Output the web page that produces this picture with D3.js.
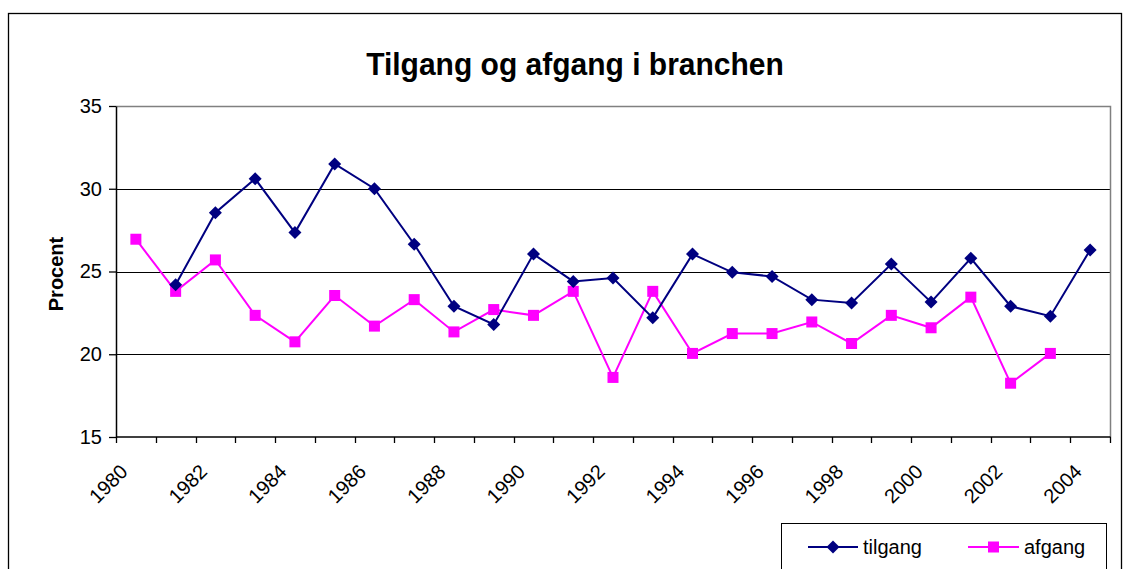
<!DOCTYPE html>
<html>
<head>
<meta charset="utf-8">
<script src="https://cdn.jsdelivr.net/npm/d3@7"></script>
<style>
  html, body { margin: 0; padding: 0; background: #fff; }
  svg { display: block; font-family: "Liberation Sans", Arial, sans-serif; }
</style>
</head>
<body>
<svg id="chart" width="1127" height="569"></svg>
<script>
const years = ["1980","1981","1982","1983","1984","1985","1986","1987","1988","1989","1990","1991","1992",
  "1993","1994","1995","1996","1997","1998","1999","2000","2001","2002","2003","2004"];
const tilgang = [null,24.2,28.55,30.6,27.35,31.5,30.0,26.65,22.9,21.8,26.05,24.4,24.6,
  22.2,26.05,24.95,24.7,23.3,23.1,25.45,23.15,25.8,22.9,22.3,26.3];
const afgang = [26.95,23.8,25.7,22.35,20.75,23.55,21.7,23.3,21.35,22.7,22.35,23.8,18.6,
  23.8,20.05,21.25,21.25,21.95,20.65,22.35,21.6,23.45,18.25,20.05,null];
const yTicks = [15,20,25,30,35];
const tickLabels = years.filter((d,i) => i % 2 === 0);
const chartTitle = "Tilgang og afgang i branchen";
const yTitle = "Procent";
const seriesNames = ["tilgang","afgang"];

const svg = d3.select("#chart");
const pLeft = 116, pRight = 1110, pTop = 106, pBottom = 437;

const x = d3.scaleBand().domain(years).range([pLeft, pRight]);
const y = d3.scaleLinear().domain([15,35]).range([pBottom, pTop]);

// outer chart border
svg.append("rect").attr("x",8.5).attr("y",13.5).attr("width",1113).attr("height",620)
  .attr("fill","none").attr("stroke","#000").attr("stroke-width",1.3);

// title
svg.append("text").attr("transform","translate(575,75) scale(1,1.06)").attr("text-anchor","middle")
  .attr("font-size",30).attr("font-weight","bold").attr("fill","#000").text(chartTitle);

// gridlines
svg.append("g").selectAll("line").data(yTicks.filter(d => d > 15 && d < 35)).join("line")
  .attr("x1",pLeft).attr("x2",pRight).attr("y1",d => Math.round(y(d))+0.5).attr("y2",d => Math.round(y(d))+0.5)
  .attr("stroke","#000").attr("stroke-width",1);

// plot area border (top and right in gray)
svg.append("path")
  .attr("d",`M${pLeft},${Math.round(y(35))+0.5}H${pRight+0.5}V${pBottom}`)
  .attr("fill","none").attr("stroke","#808080").attr("stroke-width",1.5);

// y axis
const yAxis = d3.axisLeft(y).tickValues(yTicks).tickSize(7).tickPadding(7).tickSizeOuter(0);
const gy = svg.append("g").attr("transform",`translate(${pLeft},0)`).call(yAxis);
gy.select(".domain").attr("stroke","#000").attr("stroke-width",1.5);
gy.selectAll(".tick line").attr("stroke","#000").attr("stroke-width",1.3);
gy.selectAll(".tick text").attr("font-size",20).attr("fill","#000")
  .attr("font-family","Liberation Sans, Arial, sans-serif");

// x axis (ticks at category boundaries)
const boundaries = years.map(d => x(d)).concat([pRight]);
svg.append("line").attr("x1",pLeft).attr("x2",pRight+0.5).attr("y1",pBottom).attr("y2",pBottom)
  .attr("stroke","#000").attr("stroke-width",1.5);
svg.append("g").selectAll("line").data(boundaries).join("line")
  .attr("x1",d => Math.round(d)+0.5).attr("x2",d => Math.round(d)+0.5)
  .attr("y1",pBottom).attr("y2",pBottom+6).attr("stroke","#000").attr("stroke-width",1.3);

svg.append("g").selectAll("text").data(tickLabels).join("text")
  .attr("transform",d => `translate(${x(d)+x.bandwidth()/2-7},${473}) rotate(-45)`)
  .attr("text-anchor","end").attr("font-size",20).attr("fill","#000").text(d => d);

// y title
svg.append("text").attr("transform",`translate(63,274) rotate(-90)`).attr("text-anchor","middle")
  .attr("font-size",20).attr("font-weight","bold").attr("fill","#000").text(yTitle);

// lines
const cx = d => x(d) + x.bandwidth()/2;
const line = d3.line().defined(d => d.v != null).x(d => cx(d.k)).y(d => y(d.v));
const tData = years.map((k,i) => ({k, v: tilgang[i]}));
const aData = years.map((k,i) => ({k, v: afgang[i]}));

svg.append("path").datum(aData).attr("d",line).attr("fill","none").attr("stroke","#FF00FF").attr("stroke-width",2);
svg.append("path").datum(tData).attr("d",line).attr("fill","none").attr("stroke","#000080").attr("stroke-width",2);

const sq = 11, dm = 6.5;
svg.append("g").selectAll("rect").data(aData.filter(d => d.v != null)).join("rect")
  .attr("x",d => cx(d.k)-sq/2).attr("y",d => y(d.v)-sq/2).attr("width",sq).attr("height",sq)
  .attr("fill","#FF00FF");
svg.append("g").selectAll("path").data(tData.filter(d => d.v != null)).join("path")
  .attr("d",d => `M${cx(d.k)},${y(d.v)-dm}L${cx(d.k)+dm},${y(d.v)}L${cx(d.k)},${y(d.v)+dm}L${cx(d.k)-dm},${y(d.v)}Z`)
  .attr("fill","#000080");

// legend
svg.append("rect").attr("x",781.5).attr("y",523.5).attr("width",325).attr("height",80)
  .attr("fill","#fff").attr("stroke","#000").attr("stroke-width",1);
const ly = 547;
const lg = svg.append("g");
lg.append("line").attr("x1",808).attr("x2",858).attr("y1",ly).attr("y2",ly).attr("stroke","#000080").attr("stroke-width",2);
lg.append("path").attr("d",`M833,${ly-dm}L${833+dm},${ly}L833,${ly+dm}L${833-dm},${ly}Z`).attr("fill","#000080");
lg.append("text").attr("x",863).attr("y",ly+7).attr("font-size",20).attr("fill","#000").text(seriesNames[0]);
lg.append("line").attr("x1",968).attr("x2",1019).attr("y1",ly).attr("y2",ly).attr("stroke","#FF00FF").attr("stroke-width",2);
lg.append("rect").attr("x",993.5-sq/2).attr("y",ly-sq/2).attr("width",sq).attr("height",sq).attr("fill","#FF00FF");
lg.append("text").attr("x",1024).attr("y",ly+7).attr("font-size",20).attr("fill","#000").text(seriesNames[1]);
</script>
</body>
</html>
